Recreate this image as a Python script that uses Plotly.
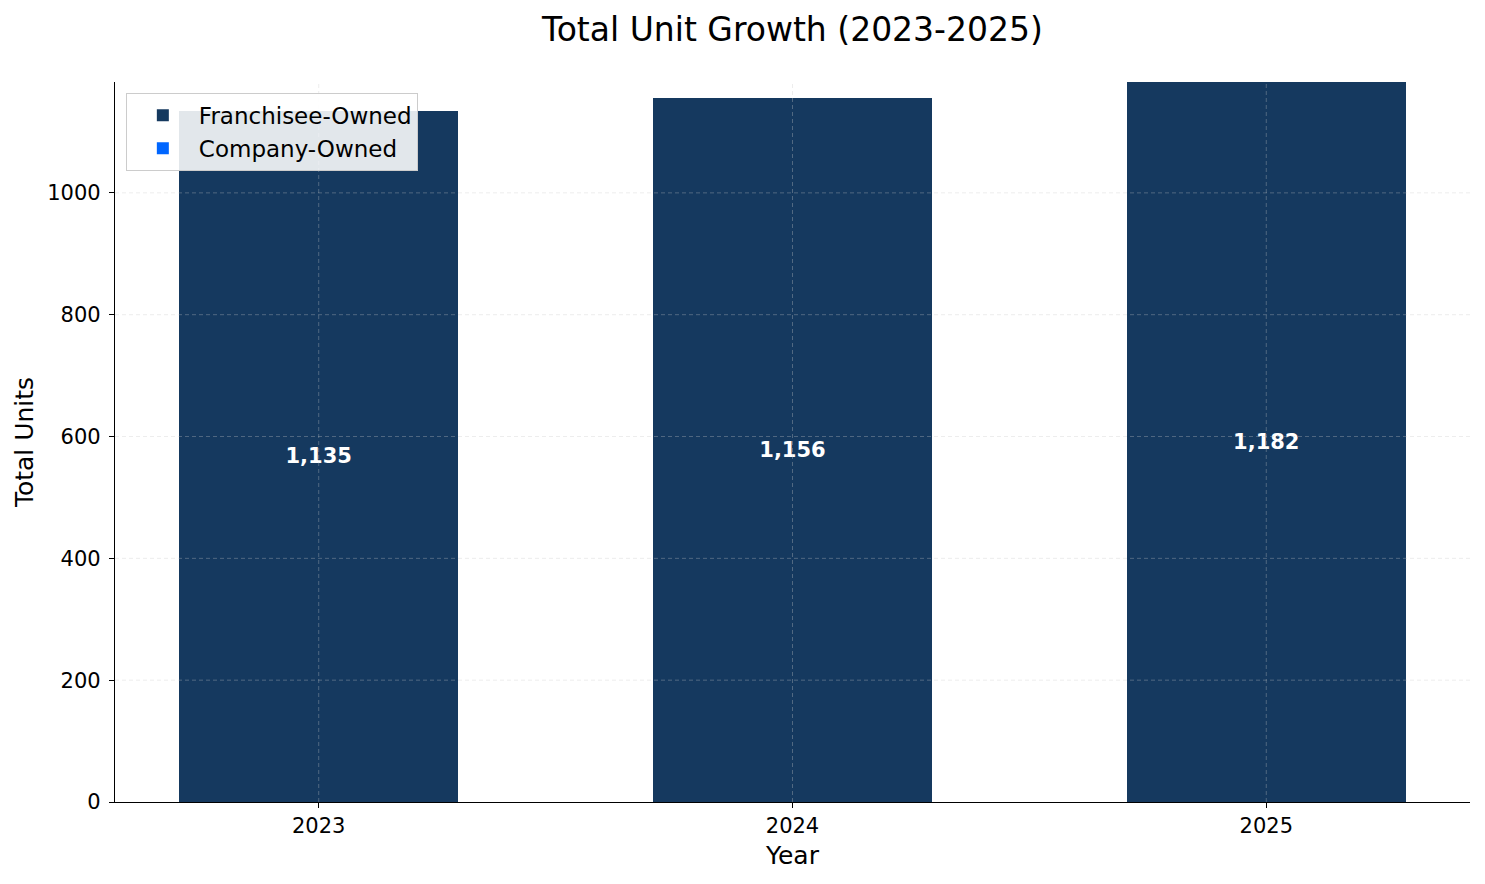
import plotly.graph_objects as go

years = ["2023", "2024", "2025"]
franchisee_owned = [1135, 1156, 1182]
company_owned = [0, 0, 0]
totals = [f + c for f, c in zip(franchisee_owned, company_owned)]
y_ticks = [0, 200, 400, 600, 800, 1000]

fig = go.Figure()
fig.add_trace(go.Bar(
    x=years, y=franchisee_owned, name="Franchisee-Owned",
    marker=dict(color="#15395f", line=dict(width=0)),
    width=0.59,
    text=[f"{t:,}" for t in totals],
    textposition="inside", insidetextanchor="middle",
    textfont=dict(color="white", size=21, family="DejaVu Sans"),
    texttemplate="<b>%{text}</b>",
))
fig.add_trace(go.Bar(
    x=years, y=company_owned, name="Company-Owned",
    marker=dict(color="#0066ff", line=dict(width=0)),
    width=0.59,
))

# dashed grid drawn over the bars, like the original
grid = dict(color="rgba(200,200,200,0.42)", width=0.8, dash="4px,3px")
for i, yr in enumerate(years):
    fig.add_shape(type="line", xref="x", yref="paper", x0=i, x1=i, y0=0, y1=1,
                  line=grid, layer="above")
for t in y_ticks[1:]:
    fig.add_shape(type="line", xref="paper", yref="y", x0=0, x1=1, y0=t, y1=t,
                  line=grid, layer="above")

fig.update_layout(
    barmode="stack",
    width=1477, height=876,
    margin=dict(l=107, r=15, t=74, b=82),
    paper_bgcolor="white", plot_bgcolor="white",
    font=dict(family="DejaVu Sans", color="black", size=21),
    title=dict(text="Total Unit Growth (2023-2025)", x=0.5, xanchor="center",
               xref="paper", y=0.975, yanchor="middle", font=dict(size=33)),
    legend=dict(x=0.008, y=0.985, xanchor="left", yanchor="top",
                traceorder="normal", itemwidth=62,
                bgcolor="rgba(255,255,255,0.88)", bordercolor="#cccccc", borderwidth=1,
                font=dict(size=23)),
)
fig.update_xaxes(
    title=dict(text="Year", font=dict(size=25), standoff=9),
    type="category", range=[-0.43, 2.43],
    showline=True, linecolor="black", linewidth=1.3,
    ticks="outside", ticklen=5, tickcolor="black",
    tickfont=dict(size=21),
    showgrid=False,
    layer="above traces",
)
fig.update_yaxes(
    title=dict(text="Total Units", font=dict(size=25), standoff=6),
    range=[0, 1182], tickvals=y_ticks, tickformat="d",
    showline=True, linecolor="black", linewidth=1.3,
    ticks="outside", ticklen=5, tickcolor="black",
    ticklabelstandoff=4,
    tickfont=dict(size=21),
    showgrid=False, zeroline=False,
    layer="above traces",
)

fig.write_html("out.html")
